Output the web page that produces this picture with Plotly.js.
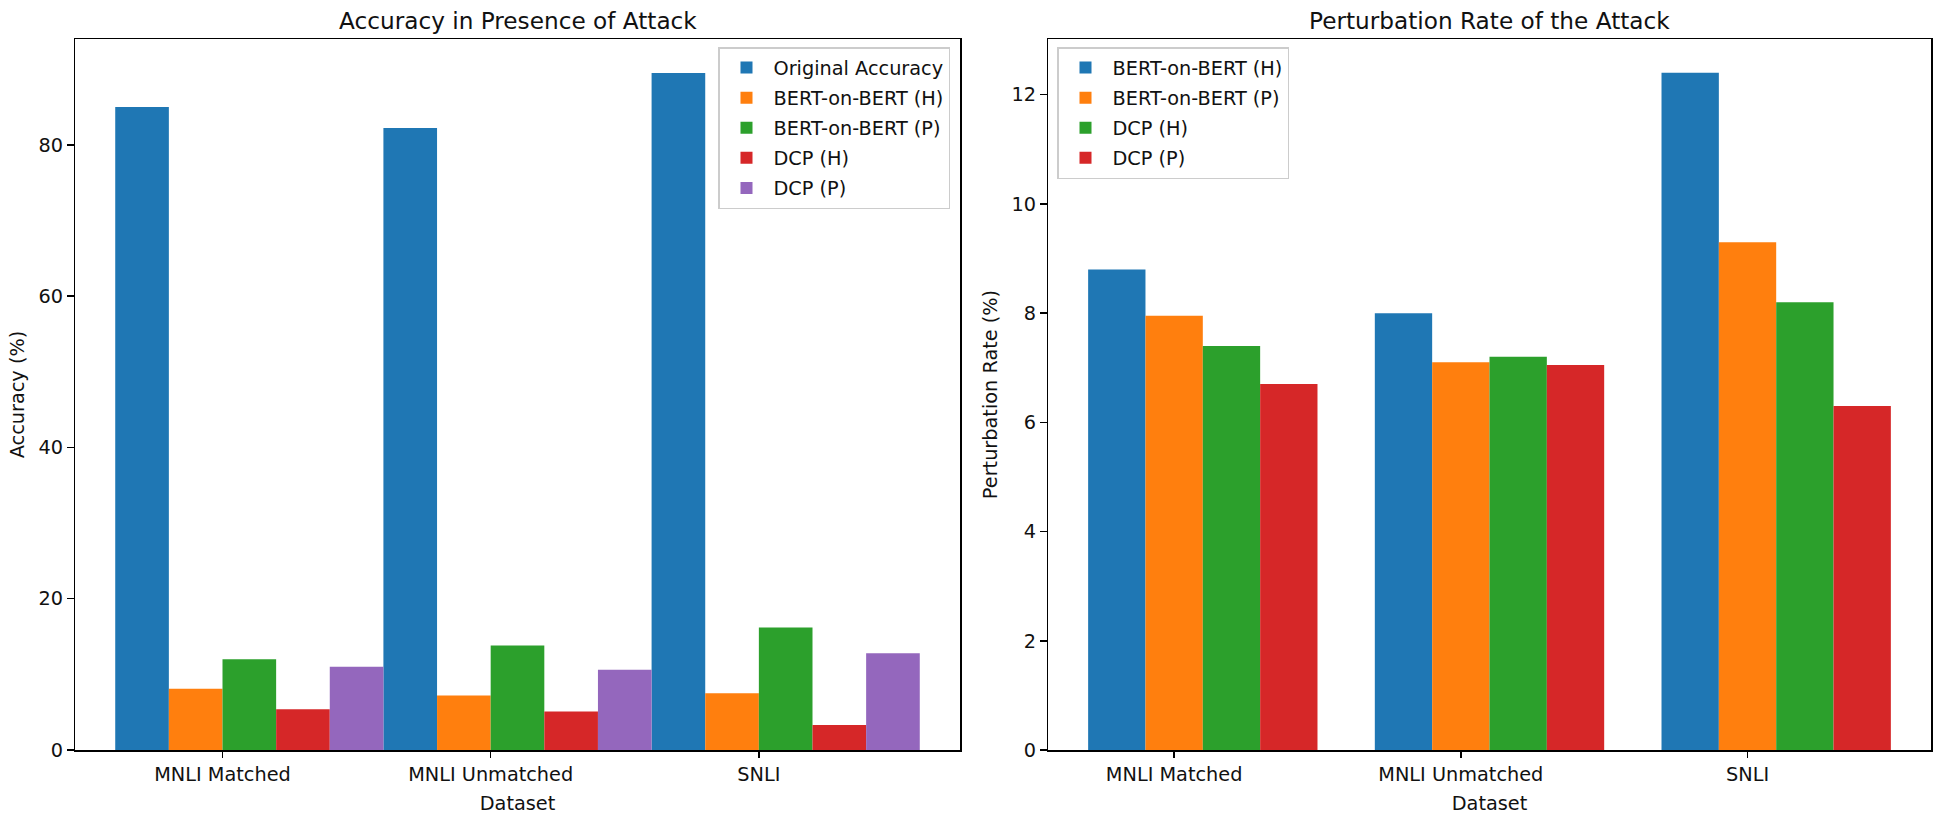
<!DOCTYPE html>
<html><head><meta charset="utf-8">
<script src="https://cdn.plot.ly/plotly-3.0.1.min.js"></script>
<style>html,body{margin:0;padding:0;background:#fff;}#chart{width:1942px;height:815px;}</style>
</head><body><div id="chart"></div>
<script>
// ---- data ----
const datasets = ['MNLI Matched', 'MNLI Unmatched', 'SNLI'];

const accSeriesNames = ['Original Accuracy', 'BERT-on-BERT (H)', 'BERT-on-BERT (P)', 'DCP (H)', 'DCP (P)'];
const accOriginal = [85.0, 82.2, 89.5];
const accBobH = [8.1, 7.2, 7.5];
const accBobP = [12.0, 13.8, 16.2];
const accDcpH = [5.4, 5.1, 3.3];
const accDcpP = [11.0, 10.6, 12.8];

const pertSeriesNames = ['BERT-on-BERT (H)', 'BERT-on-BERT (P)', 'DCP (H)', 'DCP (P)'];
const pertBobH = [8.8, 8.0, 12.4];
const pertBobP = [7.95, 7.1, 9.3];
const pertDcpH = [7.4, 7.2, 8.2];
const pertDcpP = [6.7, 7.05, 6.3];

const accTicks = [0, 20, 40, 60, 80];
const pertTicks = [0, 2, 4, 6, 8, 10, 12];

// ---- styles ----
const colors = ['#1f77b4', '#ff7f0e', '#2ca02c', '#d62728', '#9467bd'];
const FS = 19.3;
const FONT = 'DejaVu Sans, Verdana, sans-serif';
const barW = 0.2;

const accValues = [accOriginal, accBobH, accBobP, accDcpH, accDcpP];
const pertValues = [pertBobH, pertBobP, pertDcpH, pertDcpP];

const traces = [];
accValues.forEach((vals, i) => {
  traces.push({
    type: 'bar', x: datasets, y: vals, name: accSeriesNames[i],
    width: barW, offset: -0.4 + i * barW,
    marker: {color: colors[i], line: {width: 0}},
    xaxis: 'x', yaxis: 'y', legend: 'legend', legendgroup: 'a' + i
  });
});
pertValues.forEach((vals, i) => {
  traces.push({
    type: 'bar', x: datasets, y: vals, name: pertSeriesNames[i],
    width: barW, offset: -0.3 + i * barW,
    marker: {color: colors[i], line: {width: 0}},
    xaxis: 'x2', yaxis: 'y2', legend: 'legend2', legendgroup: 'p' + i
  });
});

const axisCommon = {
  showline: true, mirror: true, linecolor: '#000', linewidth: 1.5,
  ticks: 'outside', ticklen: 6.7, tickwidth: 1.5, tickcolor: '#000',
  showgrid: false, zeroline: false,
  tickfont: {family: FONT, size: FS, color: '#111'}
};

const W = 1942, H = 815;
const mL = 75, mR = 11, mT = 39, mB = 65;
const pw = W - mL - mR;
const ph = H - mT - mB;

const layout = {
  width: W, height: H,
  margin: {l: mL, r: mR, t: mT, b: mB},
  paper_bgcolor: '#fff', plot_bgcolor: '#fff',
  barmode: 'overlay',
  font: {family: FONT, size: FS, color: '#111'},
  xaxis: Object.assign({}, axisCommon, {
    domain: [0, 885 / pw], anchor: 'y', type: 'category', range: [-0.55, 2.75],
    title: {text: 'Dataset', font: {family: FONT, size: FS, color: '#111'}, standoff: 11}
  }),
  yaxis: Object.assign({}, axisCommon, {
    domain: [0, 1], anchor: 'x', range: [0, 93.98], tickvals: accTicks,
    title: {text: 'Accuracy (%)', font: {family: FONT, size: FS, color: '#111'}, standoff: 8}
  }),
  xaxis2: Object.assign({}, axisCommon, {
    domain: [(1048 - mL) / pw, 1], anchor: 'y2', type: 'category', range: [-0.44, 2.64],
    title: {text: 'Dataset', font: {family: FONT, size: FS, color: '#111'}, standoff: 11}
  }),
  yaxis2: Object.assign({}, axisCommon, {
    domain: [0, 1], anchor: 'x2', range: [0, 13.02], tickvals: pertTicks,
    title: {text: 'Perturbation Rate (%)', font: {family: FONT, size: FS, color: '#111'}, standoff: 8}
  }),
  legend: {
    x: (950 - mL) / pw, xanchor: 'right', y: (750 - 47) / ph, yanchor: 'top',
    bgcolor: 'rgba(255,255,255,0.8)', bordercolor: '#cccccc', borderwidth: 1.5,
    font: {family: FONT, size: FS, color: '#111'}, tracegroupgap: 2, itemwidth: 44,
    traceorder: 'grouped'
  },
  legend2: {
    x: (1057 - mL) / pw, xanchor: 'left', y: (750 - 47) / ph, yanchor: 'top',
    bgcolor: 'rgba(255,255,255,0.8)', bordercolor: '#cccccc', borderwidth: 1.5,
    font: {family: FONT, size: FS, color: '#111'}, tracegroupgap: 2, itemwidth: 44,
    traceorder: 'grouped'
  },
  annotations: [
    {text: 'Accuracy in Presence of Attack', xref: 'paper', yref: 'paper',
     x: (885 / pw) / 2, y: 1, xanchor: 'center', yanchor: 'bottom', yshift: 3,
     showarrow: false, font: {family: FONT, size: 23.2, color: '#111'}},
    {text: 'Perturbation Rate of the Attack', xref: 'paper', yref: 'paper',
     x: ((1048 - mL) / pw + 1) / 2, y: 1, xanchor: 'center', yanchor: 'bottom', yshift: 3,
     showarrow: false, font: {family: FONT, size: 23.2, color: '#111'}}
  ]
};

Plotly.newPlot('chart', traces, layout, {displayModeBar: false, staticPlot: true});
</script>
</body></html>
